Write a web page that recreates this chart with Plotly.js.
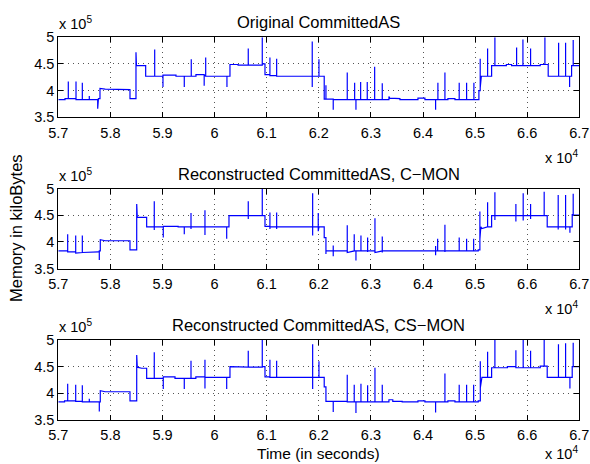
<!DOCTYPE html>
<html>
<head>
<meta charset="utf-8">
<script src="https://cdn.plot.ly/plotly-3.0.1.min.js"></script>
<style>html,body{margin:0;padding:0;background:#fff}#chart{width:590px;height:464px}</style>
</head>
<body>
<div id="chart"></div>
<script>
// ---------- DATA (time in seconds, memory in kiloBytes) ----------
const panelTitles = ["Original CommittedAS", "Reconstructed CommittedAS, C\u2212MON", "Reconstructed CommittedAS, CS\u2212MON"];
const xTickVals = [57000, 58000, 59000, 60000, 61000, 62000, 63000, 64000, 65000, 66000, 67000];
const xTickText = ["5.7", "5.8", "5.9", "6", "6.1", "6.2", "6.3", "6.4", "6.5", "6.6", "6.7"];
const yTickVals = [350000, 400000, 450000, 500000];
const yTickText = ["3.5", "4", "4.5", "5"];

const timeOriginal = [57000,57129,57129,57192,57192,57192,57340,57340,57340,57461,57461,57461,57595,57595,57595,57756,57756,57770,57800,57800,57900,58376,58376,58491,58491,58500,58677,58677,58850,58850,58850,59009,59009,59009,59259,59259,59418,59418,59418,59552,59552,59552,59642,59642,59800,59800,59800,59829,59829,59829,60237,60237,60237,60295,60295,60450,60450,60646,60646,60646,60915,60915,60915,60967,60967,61062,61062,61062,61191,61191,61191,61874,61874,61874,61874,62003,62003,62003,62104,62104,62137,62137,62137,62277,62277,62277,62546,62546,62546,62688,62688,62688,62713,62713,62713,62803,62803,62803,62930,62930,62930,63072,63072,63072,63218,63218,63218,63346,63346,63360,63557,63557,63903,63903,64037,64037,64242,64242,64242,64286,64286,64286,64421,64421,64421,64478,64478,64613,64613,64695,64695,64695,64837,64837,64837,64977,64977,64977,65073,65073,65098,65098,65098,65120,65240,65240,65240,65317,65317,65380,65380,65380,65600,65600,65700,65700,65797,65797,65797,65918,65918,65918,66065,66065,66065,66250,66250,66340,66340,66340,66403,66403,66603,66603,66603,66737,66737,66737,66814,66814,66814,66852,66852,66883,66883,66883,67000];
const memOriginal  = [383000,383000,385000,385000,417000,385000,385000,417000,383000,383000,415000,383000,383000,390000,383000,383000,366000,385000,385000,404000,403000,402000,385000,385000,472000,447000,447000,427000,427000,477000,427000,427000,407000,429000,429000,427000,427000,407000,427000,427000,459000,427000,427000,430000,430000,409000,428000,428000,462000,427000,427000,407000,427000,427000,449000,449000,448000,448000,479000,448000,448000,500000,450000,450000,430000,430000,462000,428000,428000,460000,427000,427000,492000,407000,427000,427000,459000,427000,427000,384000,384000,410000,384000,384000,364000,383000,383000,434000,383000,383000,415000,383000,383000,364000,383000,383000,416000,383000,383000,416000,383000,383000,445000,383000,383000,414000,383000,383000,389000,386000,385000,383000,383000,386000,386000,383000,383000,364000,383000,383000,415000,383000,383000,434000,383000,383000,385000,385000,383000,383000,415000,383000,383000,415000,383000,383000,415000,383000,383000,400000,400000,460000,405000,427000,427000,479000,427000,427000,447000,447000,500000,447000,447000,449000,449000,447000,447000,481000,447000,447000,496000,447000,447000,479000,447000,447000,449000,449000,500000,449000,449000,427000,427000,490000,427000,427000,490000,427000,427000,407000,427000,427000,447000,447000,495000,447000,447000];

const timeCMON = [57000,57180,57180,57180,57334,57334,57334,57461,57461,57461,57770,57787,57787,57787,57806,57806,57900,58376,58376,58505,58505,58516,58696,58696,58842,58842,58842,58842,59015,59015,59015,59300,59300,59418,59418,59418,59547,59547,59547,59547,59815,59815,59815,59815,60232,60232,60232,60276,60276,60646,60646,60646,60646,60915,60915,60915,60967,60967,61062,61062,61062,61062,61191,61191,61191,61191,61882,61882,61882,61882,61989,61989,61989,62003,62003,62003,62104,62104,62137,62137,62137,62277,62277,62277,62277,62546,62546,62546,62680,62680,62680,62713,62713,62713,62809,62809,62809,62937,62937,62937,62937,63078,63078,63078,63218,63218,63218,63218,64242,64242,64242,64242,64281,64281,64281,64421,64421,64421,64421,64695,64695,64695,64837,64837,64837,64972,64972,64972,65060,65060,65092,65092,65092,65110,65131,65240,65240,65240,65317,65317,65380,65380,65380,65380,65783,65783,65783,65783,65923,65923,65923,65923,66065,66065,66065,66065,66326,66326,66326,66384,66384,66595,66595,66595,66595,66737,66737,66737,66737,66820,66820,66820,66864,66864,66883,66883,66883,67000];
const memCMON  = [383000,383000,414000,381000,381000,412000,379000,380000,412000,380000,381000,381000,366000,383000,383000,404000,402000,402000,385000,385000,471000,446000,446000,428000,428000,476000,422000,428000,428000,408000,429000,429000,428000,428000,414000,428000,428000,454000,424000,428000,428000,459000,413000,428000,428000,406000,428000,428000,449000,449000,476000,443000,449000,449000,500000,449000,449000,429000,429000,455000,424000,428000,428000,455000,424000,428000,428000,491000,412000,428000,428000,454000,420000,428000,443000,428000,428000,408000,408000,377000,383000,383000,393000,373000,383000,383000,431000,380000,383000,414000,383000,383000,365000,383000,383000,412000,383000,383000,408000,381000,383000,383000,444000,380000,383000,410000,380000,383000,383000,392000,375000,383000,383000,406000,383000,383000,432000,381000,383000,383000,408000,383000,383000,406000,383000,383000,406000,383000,383000,385000,385000,457000,405000,428000,425000,428000,474000,428000,428000,449000,449000,493000,441000,449000,449000,471000,438000,449000,449000,491000,440000,449000,449000,471000,443000,449000,449000,494000,449000,449000,428000,428000,488000,423000,428000,428000,488000,423000,428000,428000,417000,428000,428000,452000,450000,490000,450000,450000];

const timeCSMON = [57000,57120,57120,57180,57180,57180,57334,57334,57334,57461,57461,57461,57595,57595,57595,57787,57787,57787,57806,57806,57900,58376,58376,58505,58505,58516,58600,58696,58696,58842,58842,58842,59015,59015,59015,59240,59240,59418,59418,59418,59547,59547,59547,59640,59640,59815,59815,59815,59815,60232,60232,60232,60295,60295,60646,60646,60646,60915,60915,60915,60967,60967,61062,61062,61062,61191,61191,61191,61882,61882,61882,61882,62003,62003,62003,62104,62104,62137,62137,62277,62277,62277,62546,62546,62546,62680,62680,62680,62713,62713,62713,62809,62809,62809,62937,62937,62937,63078,63078,63078,63218,63218,63218,63346,63346,63420,63420,63600,63600,63903,63903,64037,64037,64242,64242,64242,64421,64421,64421,64478,64478,64613,64613,64695,64695,64695,64837,64837,64837,64972,64972,64972,65060,65060,65100,65100,65100,65131,65240,65240,65240,65317,65317,65380,65380,65380,65620,65620,65783,65783,65783,65923,65923,65923,66065,66065,66065,66250,66250,66326,66326,66326,66384,66384,66600,66600,66600,66737,66737,66737,66820,66820,66820,66864,66864,66883,66883,66883,67000];
const memCSMON  = [384000,384000,386000,386000,418000,386000,386000,416000,385000,385000,415000,384000,384000,390000,384000,384000,366000,384000,384000,405000,403000,403000,386000,386000,472000,449000,447000,447000,428000,428000,477000,428000,428000,408000,431000,431000,428000,428000,408000,428000,428000,461000,428000,428000,431000,431000,463000,409000,430000,430000,408000,430000,430000,450000,449000,480000,449000,449000,500000,450000,450000,431000,431000,463000,430000,430000,461000,430000,430000,492000,408000,430000,430000,460000,430000,430000,412000,412000,385000,385000,365000,385000,385000,435000,384000,384000,416000,384000,384000,363000,384000,384000,418000,384000,384000,415000,384000,384000,448000,384000,384000,416000,384000,384000,388000,388000,385000,385000,384000,384000,386000,386000,384000,384000,364000,384000,384000,437000,384000,384000,386000,386000,384000,384000,416000,384000,384000,416000,384000,384000,416000,384000,384000,386000,386000,460000,410000,430000,430000,478000,430000,430000,448000,448000,500000,448000,448000,450000,450000,481000,448000,448000,500000,448000,448000,480000,448000,448000,451000,451000,500000,451000,451000,430000,430000,492000,430000,430000,494000,430000,430000,409000,430000,430000,450000,450000,495000,450000,450000];

// ---------- LAYOUT (pixel geometry) ----------
const W = 590, H = 464;
const axLeft = 58.3, axRight = 579.3;
const panelTops = [37.3, 188.5, 340.0];
const panelH = 80;
const expBaselines = [165, 316, 461];
const px = v => v / W;
const py = v => 1 - v / H;
const FONT = "Liberation Sans, Arial, Helvetica, sans-serif";

const series = [[timeOriginal, memOriginal], [timeCMON, memCMON], [timeCSMON, memCSMON]];
const traces = series.map((s, i) => ({
  x: s[0], y: s[1], type: "scatter", mode: "lines",
  line: {color: "#0000ff", width: 1.2},
  xaxis: i === 0 ? "x" : "x" + (i + 1),
  yaxis: i === 0 ? "y" : "y" + (i + 1),
  hoverinfo: "skip", showlegend: false
}));

const layout = {
  width: W, height: H,
  margin: {l: 0, r: 0, t: 0, b: 0},
  paper_bgcolor: "#fff", plot_bgcolor: "#fff",
  font: {family: FONT, size: 14.5, color: "#000"},
  showlegend: false,
  annotations: []
};

panelTops.forEach((top, i) => {
  const sfx = i === 0 ? "" : String(i + 1);
  const bottom = top + panelH;
  layout["xaxis" + sfx] = {
    domain: [px(axLeft), px(axRight)], anchor: "y" + sfx,
    range: [57000, 67000], tickvals: xTickVals, ticktext: xTickText,
    ticks: "inside", ticklen: 5, tickwidth: 1, tickcolor: "#000",
    showline: true, linecolor: "#000", linewidth: 1, mirror: "ticks",
    showgrid: true, gridcolor: "#555", gridwidth: 1, griddash: "1px,4px",
    zeroline: false, tickfont: {size: 14.5}, ticklabelstandoff: 2, fixedrange: true
  };
  layout["yaxis" + sfx] = {
    domain: [py(bottom), py(top)], anchor: "x" + sfx,
    range: [350000, 500000], tickvals: yTickVals, ticktext: yTickText,
    ticks: "inside", ticklen: 5, tickwidth: 1, tickcolor: "#000",
    showline: true, linecolor: "#000", linewidth: 1, mirror: "ticks",
    showgrid: true, gridcolor: "#555", gridwidth: 1, griddash: "1px,4px",
    zeroline: false, tickfont: {size: 14.5}, fixedrange: true
  };
  // panel title
  layout.annotations.push({
    text: panelTitles[i], xref: "paper", yref: "paper",
    x: px((axLeft + axRight) / 2), y: py(top - 15), xanchor: "center", yanchor: "middle",
    showarrow: false, font: {size: 16.5}
  });
  // y exponent
  layout.annotations.push({
    text: "x 10<sup>5</sup>", xref: "paper", yref: "paper",
    x: px(axLeft - 1), y: py(top - 3), xanchor: "left", yanchor: "bottom",
    showarrow: false, font: {size: 14.5}
  });
  // x exponent
  layout.annotations.push({
    text: "x 10<sup>4</sup>", xref: "paper", yref: "paper",
    x: px(543), y: py(expBaselines[i] + 3), xanchor: "left", yanchor: "bottom",
    showarrow: false, font: {size: 14.5}
  });
});

layout.annotations.push({
  text: "Memory in kiloBytes", xref: "paper", yref: "paper",
  x: px(16), y: py(228), xanchor: "center", yanchor: "middle", textangle: -90,
  showarrow: false, font: {size: 16.5}
});
layout.annotations.push({
  text: "Time (in seconds)", xref: "paper", yref: "paper",
  x: px((axLeft + axRight) / 2), y: py(453), xanchor: "center", yanchor: "middle",
  showarrow: false, font: {size: 15.5}
});

Plotly.newPlot("chart", traces, layout, {displayModeBar: false, staticPlot: true});
</script>
</body>
</html>
